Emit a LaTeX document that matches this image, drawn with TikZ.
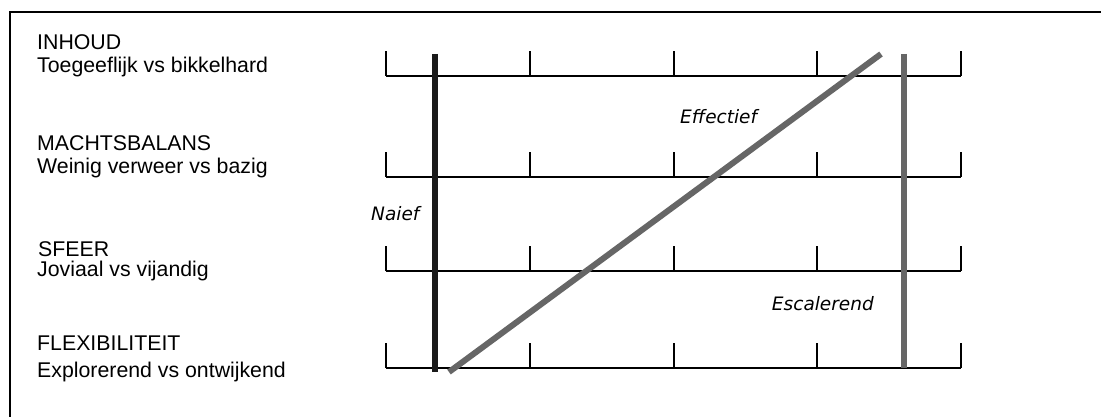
\documentclass[tikz,border=0pt]{standalone}
\usepackage{fontspec}
\setmainfont{Liberation Sans}
\newfontfamily\lblfont{DejaVu Sans}
\definecolor{darkline}{HTML}{1A1A1A}
\definecolor{greyline}{HTML}{666666}
\begin{document}
\begin{tikzpicture}[x=1pt,y=-1pt,
  rowtxt/.style={anchor=base west,inner sep=0pt,font=\fontsize{21.3}{25}\selectfont},
  itl/.style={inner sep=0pt,font=\lblfont\itshape\fontsize{18.5}{22}\selectfont},
  axis/.style={line width=2pt,black},
  tick/.style={line width=2pt,black},
  naive/.style={line width=6pt,darkline},
  grey/.style={line width=6pt,greyline}]
\useasboundingbox (0,0) rectangle (1101,417);
\fill[white] (0,0) rectangle (1101,417);
% frame (top and left edges)
\coordinate (fTR) at (1101,12);
\coordinate (fTL) at (10,12);
\coordinate (fBL) at (10,417);
\draw[line width=2pt] (fTR) -- (fTL) -- (fBL);
% labels
\node[rowtxt] (t1) at (37,50) {INHOUD};
\node[rowtxt] (s1) at (37,73) {Toegeeflijk vs bikkelhard};
\node[rowtxt] (t2) at (37,151) {MACHTSBALANS};
\node[rowtxt] (s2) at (37,174) {Weinig verweer vs bazig};
\node[rowtxt] (t3) at (38,256) {SFEER};
\node[rowtxt] (s3) at (37,276) {Joviaal vs vijandig};
\node[rowtxt] (t4) at (37,350) {FLEXIBILITEIT};
\node[rowtxt] (s4) at (37,377) {Explorerend vs ontwijkend};
% axes with ticks
\foreach \r/\y in {1/76,2/177,3/271,4/368}{
  \coordinate (a\r L) at (386,\y);
  \coordinate (a\r R) at (961,\y);
  \draw[axis] (a\r L) -- (a\r R);
  \foreach \k/\x in {1/386,2/530,3/674,4/817,5/961}{
    \coordinate (k\r\k b) at (\x,\y);
    \coordinate (k\r\k t) at (\x,\y-25);
    \draw[tick] (k\r\k b) -- (k\r\k t);
  }
}
% profile lines
\coordinate (nT) at (435,54);
\coordinate (nB) at (435,372);
\draw[naive] (nT) -- (nB);
\coordinate (eT) at (904,54);
\coordinate (eB) at (904,368);
\draw[grey] (eT) -- (eB);
\coordinate (dB) at (449,372);
\coordinate (dT) at (881,54);
\draw[grey] (dB) -- (dT);
% italic labels
\node[itl,anchor=base west] (naief) at (371,220) {Naief};
\node[itl,anchor=base west] (eff) at (680,124) {Effectief};
\node[itl,anchor=base east] (esc) at (874,310) {Escalerend};
\end{tikzpicture}
\end{document}
